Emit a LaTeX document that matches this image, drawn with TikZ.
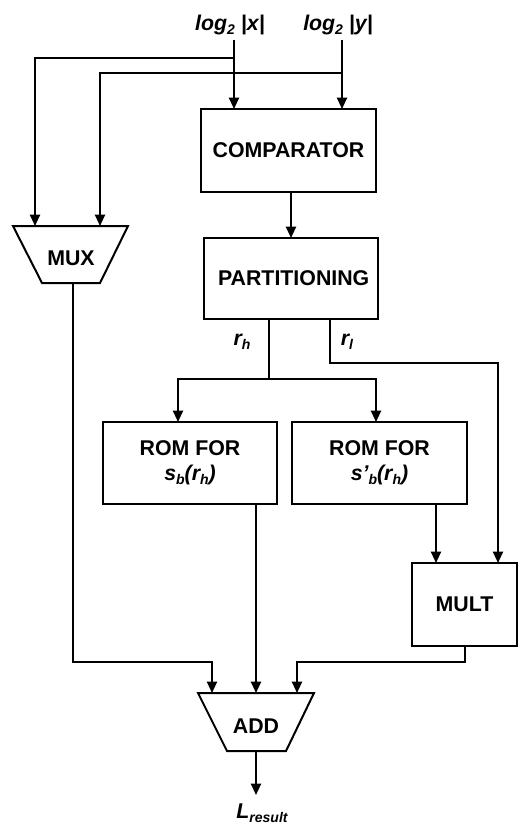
\documentclass[tikz,border=0pt]{standalone}
\usepackage{fontspec}
\setmainfont{Liberation Sans}
\usetikzlibrary{arrows.meta}
\newcommand\lowidx[1]{\raisebox{-0.35ex}{\fontsize{10.5}{10.5}\selectfont #1}}
\begin{document}
\begin{tikzpicture}[x=0.75pt,y=-0.75pt,
  line width=1.5pt,
  >={Triangle[length=8.5pt,width=7.5pt]},
  lbl/.style={font=\fontsize{16}{18.75}\selectfont\bfseries, align=center, inner sep=0pt},
  ilbl/.style={font=\fontsize{16}{18.75}\selectfont\bfseries\itshape, inner sep=0pt},
  blk/.style={draw, rectangle, lbl, outer sep=0pt, inner sep=0pt}]
\useasboundingbox (0,0) rectangle (518,825);

% blocks
\node[blk, minimum width=131.25pt, minimum height=62.25pt] (comp) at (288.5,150.5) {COMPARATOR};
\node[blk, minimum width=130.5pt, minimum height=60.75pt] (part) at (291,278.5) {\hspace*{4pt}PARTITIONING};
\node[blk, minimum width=130.5pt, minimum height=61.5pt] (rom1) at (190,463) {ROM FOR\\\textit{s\lowidx{b}(r\lowidx{h})}};
\node[blk, minimum width=131.25pt, minimum height=61.5pt] (rom2) at (379.5,463) {ROM FOR\\\textit{s’\lowidx{b}(r\lowidx{h})}};
\node[blk, minimum width=78.75pt, minimum height=62.25pt] (mult) at (464.5,604.5) {MULT};

% trapezoids
\draw[line join=miter] (13,226) -- (128,226) -- (100,283) -- (42,283) -- cycle;
\node[lbl] (mux) at (71,258) {MUX};
\draw[line join=miter] (198,693) -- (314,693) -- (286,751) -- (227,751) -- cycle;
\node[lbl] (add) at (256,726) {ADD};

% labels
\node[ilbl] (lx) at (230,25) {log\lowidx{2} |x|};
\node[ilbl] (ly) at (338,25) {log\lowidx{2} |y|};
\node[ilbl] (lrh) at (242,342) {r\lowidx{h}};
\node[ilbl] (lrl) at (347,342) {r\lowidx{l}};
\node[ilbl] (lres) at (262,813) {L\lowidx{result}};

% connection points
\coordinate (xin) at (234,40);
\coordinate (yin) at (342,40);
\coordinate (jx) at (234,58);
\coordinate (jy) at (342,73);
\coordinate (muxa) at (35,226);
\coordinate (muxb) at (100,226);
\coordinate (muxout) at (73,283);
\coordinate (rh) at (269,379);
\coordinate (r1in) at (178,422);
\coordinate (r2in) at (376,422);
\coordinate (rl) at (330,319);
\coordinate (rlb) at (498,363);
\coordinate (m1in) at (436,563);
\coordinate (k1) at (212,662);
\coordinate (a1) at (212,693);
\coordinate (a2) at (256,693);
\coordinate (a3) at (297,693);
\coordinate (aout) at (256,751);
\coordinate (res) at (256,795);

% inputs
\draw[->] (xin) -- (xin |- comp.north);
\draw[->] (yin) -- (yin |- comp.north);
\draw[->] (jx) -| (muxa);
\draw[->] (jy) -| (muxb);
\draw[->] (part.north |- comp.south) -- (part.north);

% partition outputs
\draw (rh |- part.south) -- (rh);
\draw[->] (rh) -| (r1in);
\draw[->] (rh) -| (r2in);
\draw[->] (rl) |- (rlb) -- (rlb |- mult.north);
\draw[->] (rom2.south -| m1in) -- (m1in);

% adder inputs
\draw[->] (muxout) |- (k1) -- (a1);
\draw[->] (rom1.south -| a2) -- (a2);
\draw[->] (mult.south) |- (a3 |- k1) -- (a3);
\draw[->] (aout) -- (res);
\end{tikzpicture}
\end{document}
